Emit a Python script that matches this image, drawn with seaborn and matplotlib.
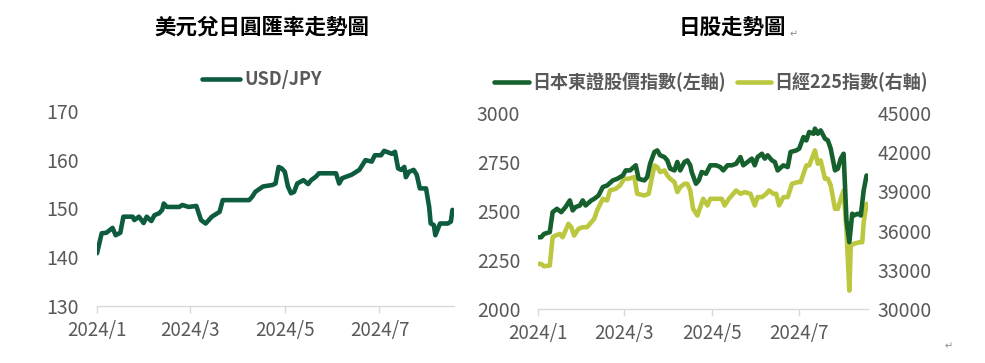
import pandas as pd
import matplotlib
matplotlib.use("Agg")
import matplotlib.pyplot as plt
import matplotlib.dates as mdates
import seaborn as sns

sns.set_theme(style="white")
plt.rcParams['font.family'] = ['Noto Sans CJK TC', 'DejaVu Sans']

# USD/JPY
fx_dates = ["2024-01-01", "2024-01-04", "2024-01-07", "2024-01-11", "2024-01-13", "2024-01-16",
            "2024-01-18", "2024-01-24", "2024-01-25", "2024-01-28", "2024-01-31", "2024-02-02",
            "2024-02-05", "2024-02-07", "2024-02-10", "2024-02-12", "2024-02-13", "2024-02-15",
            "2024-02-23", "2024-02-25", "2024-02-29", "2024-03-05", "2024-03-08", "2024-03-11",
            "2024-03-15", "2024-03-20", "2024-03-22", "2024-04-08", "2024-04-10", "2024-04-12",
            "2024-04-17", "2024-04-23", "2024-04-25", "2024-04-27", "2024-04-29", "2024-05-01",
            "2024-05-03", "2024-05-05", "2024-05-07", "2024-05-09", "2024-05-13", "2024-05-16",
            "2024-05-18", "2024-05-21", "2024-05-23", "2024-06-01", "2024-06-03", "2024-06-05",
            "2024-06-07", "2024-06-13", "2024-06-18", "2024-06-20", "2024-06-22", "2024-06-26",
            "2024-06-28", "2024-07-02", "2024-07-04", "2024-07-09", "2024-07-11", "2024-07-13",
            "2024-07-15", "2024-07-17", "2024-07-18", "2024-07-20", "2024-07-23", "2024-07-25",
            "2024-07-27", "2024-07-31", "2024-08-02", "2024-08-03", "2024-08-05", "2024-08-06",
            "2024-08-09", "2024-08-14", "2024-08-16", "2024-08-17", "2024-08-18"]
usdjpy = [140.8, 144.9, 145.0, 146.0, 144.5, 145.0,
          148.3, 148.3, 147.6, 148.3, 147.0, 148.3,
          147.4, 148.6, 149.0, 149.7, 151.0, 150.3,
          150.3, 150.7, 150.3, 150.5, 147.6, 146.9,
          148.3, 149.3, 151.7, 151.7, 152.4, 153.4,
          154.5, 154.8, 155.1, 158.5, 158.2, 157.5,
          154.5, 153.1, 153.4, 155.1, 155.8, 155.0,
          155.8, 156.5, 157.2, 157.2, 157.2, 155.1,
          156.2, 156.9, 157.9, 158.9, 159.9, 159.6,
          160.9, 160.9, 161.8, 161.2, 161.6, 158.2,
          157.9, 158.5, 156.4, 157.5, 157.9, 156.9,
          154.1, 154.1, 150.3, 146.9, 146.6, 144.5,
          146.9, 146.9, 147.3, 149.7, 149.2]

# 日本東證股價指數 (left axis)
topix_dates = ["2024-01-01", "2024-01-03", "2024-01-05", "2024-01-09", "2024-01-11", "2024-01-14",
               "2024-01-17", "2024-01-20", "2024-01-23", "2024-01-25", "2024-01-27", "2024-01-30",
               "2024-02-01", "2024-02-03", "2024-02-07", "2024-02-09", "2024-02-12", "2024-02-15",
               "2024-02-18", "2024-02-22", "2024-02-25", "2024-02-29", "2024-03-02", "2024-03-05",
               "2024-03-09", "2024-03-11", "2024-03-15", "2024-03-17", "2024-03-19", "2024-03-22",
               "2024-03-24", "2024-03-26", "2024-03-29", "2024-03-31", "2024-04-02", "2024-04-05",
               "2024-04-07", "2024-04-09", "2024-04-12", "2024-04-14", "2024-04-16", "2024-04-17",
               "2024-04-20", "2024-04-22", "2024-04-24", "2024-04-27", "2024-04-30", "2024-05-04",
               "2024-05-07", "2024-05-09", "2024-05-12", "2024-05-15", "2024-05-18", "2024-05-21",
               "2024-05-23", "2024-05-26", "2024-05-29", "2024-05-31", "2024-06-02", "2024-06-05",
               "2024-06-07", "2024-06-09", "2024-06-12", "2024-06-14", "2024-06-16", "2024-06-20",
               "2024-06-23", "2024-06-25", "2024-06-29", "2024-07-01", "2024-07-04", "2024-07-06",
               "2024-07-08", "2024-07-11", "2024-07-12", "2024-07-14", "2024-07-16", "2024-07-19",
               "2024-07-21", "2024-07-23", "2024-07-26", "2024-07-28", "2024-07-30", "2024-08-01",
               "2024-08-03", "2024-08-05", "2024-08-07", "2024-08-08", "2024-08-11", "2024-08-13",
               "2024-08-15", "2024-08-17"]
topix = [2366, 2366, 2383, 2392, 2494, 2511,
         2494, 2520, 2554, 2503, 2520, 2528,
         2554, 2528, 2554, 2562, 2579, 2622,
         2630, 2656, 2664, 2681, 2707, 2707,
         2733, 2664, 2656, 2673, 2741, 2801,
         2809, 2784, 2775, 2758, 2716, 2707,
         2750, 2707, 2750, 2758, 2733, 2699,
         2639, 2656, 2699, 2690, 2733, 2733,
         2724, 2707, 2733, 2733, 2741, 2775,
         2733, 2750, 2767, 2733, 2775, 2792,
         2767, 2784, 2758, 2750, 2707, 2733,
         2724, 2801, 2809, 2818, 2877, 2860,
         2903, 2894, 2920, 2894, 2911, 2869,
         2860, 2818, 2707, 2716, 2767, 2792,
         2451, 2341, 2486, 2477, 2486, 2477,
         2605, 2681]

# 日經225指數 (right axis)
nikkei_dates = ["2024-01-01", "2024-01-03", "2024-01-05", "2024-01-09", "2024-01-11", "2024-01-13",
                "2024-01-16", "2024-01-18", "2024-01-22", "2024-01-24", "2024-01-26", "2024-01-29",
                "2024-02-01", "2024-02-04", "2024-02-07", "2024-02-09", "2024-02-11", "2024-02-15",
                "2024-02-18", "2024-02-20", "2024-02-24", "2024-02-27", "2024-03-01", "2024-03-04",
                "2024-03-08", "2024-03-10", "2024-03-15", "2024-03-18", "2024-03-22", "2024-03-24",
                "2024-03-26", "2024-03-29", "2024-03-31", "2024-04-02", "2024-04-05", "2024-04-07",
                "2024-04-09", "2024-04-12", "2024-04-14", "2024-04-16", "2024-04-18", "2024-04-21",
                "2024-04-23", "2024-04-25", "2024-04-28", "2024-04-30", "2024-05-05", "2024-05-08",
                "2024-05-10", "2024-05-13", "2024-05-16", "2024-05-18", "2024-05-21", "2024-05-24",
                "2024-05-28", "2024-05-31", "2024-06-02", "2024-06-05", "2024-06-08", "2024-06-10",
                "2024-06-13", "2024-06-15", "2024-06-17", "2024-06-20", "2024-06-23", "2024-06-26",
                "2024-06-30", "2024-07-02", "2024-07-06", "2024-07-08", "2024-07-12", "2024-07-14",
                "2024-07-16", "2024-07-19", "2024-07-21", "2024-07-23", "2024-07-26", "2024-07-28",
                "2024-07-30", "2024-08-01", "2024-08-03", "2024-08-05", "2024-08-06", "2024-08-08",
                "2024-08-12", "2024-08-14", "2024-08-15", "2024-08-17"]
nikkei = [33449, 33449, 33270, 33321, 35493, 35621,
          35749, 35493, 36515, 36260, 35621, 36132,
          36260, 36260, 36643, 36899, 37537, 38432,
          38304, 39070, 39198, 39454, 39965, 39965,
          40093, 38815, 38687, 38815, 40987, 40859,
          40476, 40604, 40220, 39965, 39709, 38943,
          39326, 39581, 39581, 39070, 37665, 37154,
          37793, 38432, 37921, 38432, 38432, 38432,
          37921, 38432, 38815, 39070, 38815, 38943,
          38815, 37921, 38560, 38560, 38815, 39070,
          38815, 38815, 37921, 38560, 38560, 39581,
          39709, 39709, 40987, 40987, 42136, 41115,
          41370, 39965, 39965, 39454, 37665, 37665,
          38432, 39070, 36004, 31405, 34855, 34983,
          35110, 35110, 36643, 38048]

fx_df = pd.DataFrame({"date": pd.to_datetime(fx_dates), "value": usdjpy})
tp_df = pd.DataFrame({"date": pd.to_datetime(topix_dates), "value": topix})
nk_df = pd.DataFrame({"date": pd.to_datetime(nikkei_dates), "value": nikkei})

tick_dates = pd.to_datetime(["2024-01-01", "2024-03-01", "2024-05-01", "2024-07-01"])
tick_labels = ["2024/1", "2024/3", "2024/5", "2024/7"]

c_fx = "#0D5C3D"
c_tp = "#15602C"
c_nk = "#BCC740"
gray = "#595959"

fig = plt.figure(figsize=(9.85, 3.63), dpi=100)
ax1 = fig.add_axes([0.0985, 0.1573, 0.3624, 0.5372])
ax2 = fig.add_axes([0.5465, 0.1488, 0.3347, 0.5400])
ax3 = ax2.twinx()

sns.lineplot(data=fx_df, x="date", y="value", ax=ax1, color=c_fx, linewidth=3.3, label="USD/JPY", legend=False)
sns.lineplot(data=tp_df, x="date", y="value", ax=ax2, color=c_tp, linewidth=3.3, label="日本東證股價指數(左軸)", legend=False)
sns.lineplot(data=nk_df, x="date", y="value", ax=ax3, color=c_nk, linewidth=3.3, label="日經225指數(右軸)", legend=False)

xmin, xmax = pd.Timestamp("2024-01-01"), pd.Timestamp("2024-08-18")
for ax in (ax1, ax2, ax3):
    ax.set_xlim(mdates.date2num(xmin), mdates.date2num(xmax))
    ax.set_xlabel("")
    ax.set_ylabel("")
    for s in ax.spines.values():
        s.set_visible(False)
    ax.spines["bottom"].set_visible(True)
    ax.spines["bottom"].set_color("#D9D9D9")
    ax.spines["bottom"].set_linewidth(1)
    ax.set_facecolor("none")

for ax in (ax1, ax2):
    ax.set_xticks(mdates.date2num(tick_dates))
    ax.set_xticklabels(tick_labels)
    ax.tick_params(axis="x", bottom=True, length=5, width=1, color="#D9D9D9", pad=5,
                   labelsize=13.5, labelcolor=gray)
    ax.tick_params(axis="y", left=False, length=0, pad=13, labelsize=14, labelcolor=gray)

ax3.spines["bottom"].set_visible(False)
ax3.tick_params(axis="y", right=False, length=0, pad=7, labelsize=14, labelcolor=gray)

ax1.set_ylim(130, 170)
ax1.set_yticks([130, 140, 150, 160, 170])
ax2.set_ylim(2000, 3000)
ax2.set_yticks([2000, 2250, 2500, 2750, 3000])
ax3.set_ylim(30000, 45000)
ax3.set_yticks([30000, 33000, 36000, 39000, 42000, 45000])
ax2.set_zorder(ax3.get_zorder() + 1)

fig.text(0.266, 0.925, "美元兌日圓匯率走勢圖", ha="center", va="center", fontsize=15.5,
         fontweight="bold", color="black")
fig.text(0.744, 0.925, "日股走勢圖", ha="center", va="center", fontsize=15.5,
         fontweight="bold", color="black")
fig.text(0.806, 0.905, "↵", ha="center", va="center", fontsize=7, color="#8C8C8C",
         family="DejaVu Sans")
fig.text(0.963, 0.047, "↵", ha="center", va="center", fontsize=7, color="#8C8C8C",
         family="DejaVu Sans")

h1, l1 = ax1.get_legend_handles_labels()
leg1 = fig.legend(h1, l1, loc="center", bbox_to_anchor=(0.266, 0.78), frameon=False,
                  handlelength=2.1, handletextpad=0.2, fontsize=13)
h2, l2 = ax2.get_legend_handles_labels()
h3, l3 = ax3.get_legend_handles_labels()
leg2 = fig.legend(h2 + h3, l2 + l3, loc="center", bbox_to_anchor=(0.722, 0.774), ncol=2,
                  frameon=False, handlelength=1.9, handletextpad=0.2, columnspacing=0.6,
                  fontsize=13)
for leg in (leg1, leg2):
    for t in leg.get_texts():
        t.set_color(gray)
        t.set_fontweight("bold")

fig.savefig("out.png", dpi=100, facecolor="white")
